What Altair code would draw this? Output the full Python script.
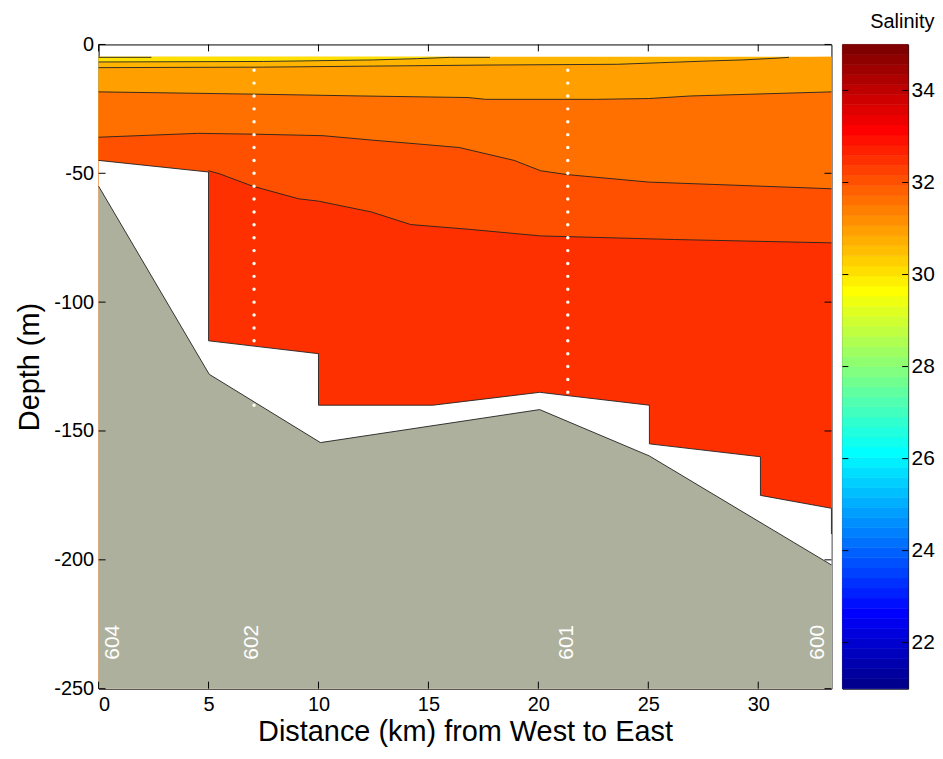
import altair as alt
import pandas as pd

# ---------------- data ----------------
X_MAX = 33.33          # km, end of section
DEPTH_MIN = -250       # m

# upper edge of the sampled salinity field
top_x = [0, 33.33]
top_y = [-4.8, -4.8]

# contour boundaries (km, m)
l1_x = [0, 7.5, 12.5, 14.5, 16.0]
l1_y = [-6.8, -6.6, -6.0, -5.5, -5.0]

l2_x = [0, 7.5, 12.5, 17.6, 23.6, 25.5, 27.8, 29.3, 30.9, 31.4, 33.33]
l2_y = [-9.0, -8.8, -8.4, -8.0, -7.7, -7.1, -6.4, -6.0, -5.3, -5.0, -4.8]

l3_x = [0, 7.2, 12.0, 16.8, 17.6, 22.6, 25.0, 26.9, 33.33]
l3_y = [-18.4, -19.3, -20.0, -20.6, -21.3, -21.3, -21.0, -20.0, -18.4]

l4_x = [0, 4.5, 7.0, 10.2, 12.4, 14.5, 16.4, 17.0, 18.9, 20.1, 21.3, 25.0, 33.33]
l4_y = [-36.0, -34.5, -34.8, -35.4, -37.1, -38.6, -40.0, -41.2, -45.0, -49.0, -50.5, -53.4, -56.0]

l5_x = [5.0, 5.5, 7.0, 9.1, 10.0, 12.4, 14.2, 16.8, 20.1, 26.2, 33.33]
l5_y = [-49.0, -50.2, -55.0, -59.9, -60.8, -65.0, -69.9, -71.7, -74.3, -75.7, -77.0]

# lower edge of the sampled field (vertical steps at 5, 10, 25 and 30 km)
bot_x = [0, 5, 5.001, 10, 10.001, 15.2, 20.06, 25.05, 25.051, 30.1, 30.101, 33.33]
bot_y = [-45, -49.5, -115, -120, -140, -140, -135, -140, -155, -160, -175, -180]

# bathymetry
bathy_x = [0, 5.03, 10.09, 20.06, 25.05, 33.33]
bathy_y = [-55, -128, -154.5, -141.7, -159.7, -202]

# short contour pieces
seg_top1_x = [0, 2.4]
seg_top1_y = [-5.0, -5.0]
seg_top2_x = [16.0, 17.8]
seg_top2_y = [-5.0, -5.0]
seg_edge_x = [33.33, 33.33]
seg_edge_y = [-180, -190]

# CTD sample depths
st602_x = 7.07
st602_depths = [-10, -15, -20, -25, -30, -35, -40, -45, -50, -55, -60, -65, -70,
                -75, -80, -85, -90, -95, -100, -105, -110, -115, -140]
st601_x = 21.34
st601_depths = [-10, -15, -20, -25, -30, -35, -40, -45, -50, -55, -60, -65, -70,
                -75, -80, -85, -90, -95, -100, -105, -110, -115, -120, -125,
                -130, -135]

station_names = ["604", "602", "601", "600"]
station_label_x = [0.65, 7.0, 21.3, 32.7]
station_label_y = [-232, -232, -232, -232]

x_ticks = [0, 5, 10, 15, 20, 25, 30]
y_ticks = [0, -50, -100, -150, -200, -250]
cb_ticks = [22, 24, 26, 28, 30, 32, 34]
CB_MIN, CB_MAX = 21, 35

# ---------------- styling ----------------
W, H = 736, 647
CBW = 66
TICK = 7
FONT = "Liberation Sans"
GREY = "#ADB09C"

C_LIGHT = "#FFB400"
C_YELLOW = "#FFE000"
C_ORANGE = "#FFA000"
C_DORANGE = "#FF7000"
C_RORANGE = "#FF5000"
C_RED = "#FF3000"


def jet64(i):
    u = [k / 16 for k in range(1, 17)] + [1.0] * 15 + [k / 16 for k in range(16, 0, -1)]
    def pick(j):
        return u[j - 1] if 1 <= j <= 47 else 0.0
    r = pick(i - 24)
    g = pick(i - 8)
    b = pick(i + 8) if i <= 39 else 0.0
    return "#%02X%02X%02X" % (round(r * 255), round(g * 255), round(b * 255))


xscale = alt.Scale(domain=[0, X_MAX], nice=False, zero=False)
yscale = alt.Scale(domain=[DEPTH_MIN, 0], nice=False, zero=False)

x_axis = alt.Axis(title="Distance (km) from West to East", values=x_ticks, ticks=False,
                  domain=False, grid=False, labelFontSize=20, titleFontSize=29,
                  labelPadding=6, titlePadding=3, labelFont=FONT, titleFont=FONT,
                  titleFontWeight="normal", labelColor="black", titleColor="black")
y_axis = alt.Axis(title="Depth (m)", values=y_ticks, ticks=False, domain=False, grid=False,
                  labelFontSize=20, titleFontSize=29, labelPadding=5, titlePadding=9,
                  labelFont=FONT, titleFont=FONT, titleFontWeight="normal",
                  labelColor="black", titleColor="black",
                  labelExpr="toString(datum.value)")


def X():
    return alt.X("x:Q", scale=xscale, axis=x_axis)


def Y():
    return alt.Y("y:Q", scale=yscale, axis=y_axis)


def area(xv, yv, y2v, color):
    n = len(xv)
    if not isinstance(y2v, list):
        y2v = [y2v] * n
    df = pd.DataFrame({"x": xv, "y": yv, "y2": y2v})
    return alt.Chart(df).mark_area(fill=color, stroke=color, strokeWidth=0.01,
                                   interpolate="linear", fillOpacity=1).encode(
        x=X(), y=Y(), y2=alt.Y2("y2"))


layers = [
    area(top_x, top_y, DEPTH_MIN, C_LIGHT),
    area(l1_x, l1_y, [-4.8] * len(l1_x), C_YELLOW),
    area(l2_x, l2_y, DEPTH_MIN, C_ORANGE),
    area(l3_x, l3_y, DEPTH_MIN, C_DORANGE),
    area(l4_x, l4_y, DEPTH_MIN, C_RORANGE),
    area(l5_x, l5_y, DEPTH_MIN, C_RED),
    area(bot_x, bot_y, DEPTH_MIN, "#FFFFFF"),
    area(bathy_x, bathy_y, DEPTH_MIN, GREY),
]

# contour lines
rows = []
for name, xv, yv in [("l1", l1_x, l1_y), ("l2", l2_x[:-1], l2_y[:-1]), ("l3", l3_x, l3_y),
                     ("l4", l4_x, l4_y), ("l5", l5_x, l5_y), ("bot", bot_x, bot_y),
                     ("bathy", bathy_x, bathy_y), ("s1", seg_top1_x, seg_top1_y),
                     ("s2", seg_top2_x, seg_top2_y), ("s3", seg_edge_x, seg_edge_y)]:
    for k, (a, b) in enumerate(zip(xv, yv)):
        rows.append({"x": a, "y": b, "id": name, "o": k})
lines_df = pd.DataFrame(rows)
layers.append(alt.Chart(lines_df).mark_line(color="#222222", strokeWidth=0.9).encode(
    x=X(), y=Y(), detail="id:N", order="o:Q"))

# CTD sample dots
dots = pd.DataFrame({"x": [st602_x] * len(st602_depths) + [st601_x] * len(st601_depths),
                     "y": st602_depths + st601_depths})
layers.append(alt.Chart(dots).mark_circle(color="#FFFFF4", size=12, opacity=1).encode(
    x=X(), y=Y()))

# station labels
labels = pd.DataFrame({"x": station_label_x, "y": station_label_y, "t": station_names})
layers.append(alt.Chart(labels).mark_text(color="white", angle=270, fontSize=21, font=FONT,
                                          align="center", baseline="middle").encode(
    x=X(), y=Y(), text="t:N"))

# inward ticks
xt = pd.DataFrame({"x": x_ticks})
yt = pd.DataFrame({"y": y_ticks})
layers.append(alt.Chart(xt).mark_rule(color="black", strokeWidth=1).encode(
    x=X(), y=alt.value(H), y2=alt.value(H - TICK)))
layers.append(alt.Chart(xt).mark_rule(color="black", strokeWidth=1).encode(
    x=X(), y=alt.value(0), y2=alt.value(TICK)))
layers.append(alt.Chart(yt).mark_rule(color="black", strokeWidth=1).encode(
    y=Y(), x=alt.value(0), x2=alt.value(TICK)))
layers.append(alt.Chart(yt).mark_rule(color="black", strokeWidth=1).encode(
    y=Y(), x=alt.value(W), x2=alt.value(W - TICK)))

main = alt.layer(*layers).properties(width=W, height=H)

# ---------------- colorbar ----------------
step = (CB_MAX - CB_MIN) / 64
cb_df = pd.DataFrame({"lo": [CB_MIN + k * step for k in range(64)],
                      "hi": [CB_MIN + (k + 1) * step for k in range(64)],
                      "c": [jet64(k + 1) for k in range(64)]})
cb_scale = alt.Scale(domain=[CB_MIN, CB_MAX], nice=False, zero=False)
cb_axis = alt.Axis(orient="right", values=cb_ticks, title=None, ticks=False, domain=False,
                   grid=False, labelFontSize=21, labelPadding=3, labelFont=FONT,
                   labelColor="black")
bar = alt.Chart(cb_df).mark_rect(strokeWidth=0.6).encode(
    y=alt.Y("lo:Q", scale=cb_scale, axis=cb_axis), y2="hi:Q",
    x=alt.value(0), x2=alt.value(CBW),
    color=alt.Color("c:N", scale=None), stroke=alt.Stroke("c:N", scale=None))
cbt = pd.DataFrame({"lo": cb_ticks})
cb_t1 = alt.Chart(cbt).mark_rule(color="black", strokeWidth=1).encode(
    y=alt.Y("lo:Q", scale=cb_scale, axis=cb_axis), x=alt.value(0), x2=alt.value(6))
cb_t2 = alt.Chart(cbt).mark_rule(color="black", strokeWidth=1).encode(
    y=alt.Y("lo:Q", scale=cb_scale, axis=cb_axis), x=alt.value(CBW), x2=alt.value(CBW - 6))
cbar = alt.layer(bar, cb_t1, cb_t2).properties(
    width=CBW, height=H,
    title=alt.TitleParams("Salinity", fontSize=20, fontWeight="normal", font=FONT,
                          anchor="end", color="black", offset=12))

chart = alt.hconcat(main, cbar, spacing=7).properties(
    padding={"left": 7, "top": 2, "right": 0, "bottom": 5},
    background="white",
).configure_view(stroke="black", strokeWidth=1)

chart.save("out.html", embed_options={"renderer": "svg", "actions": False})
